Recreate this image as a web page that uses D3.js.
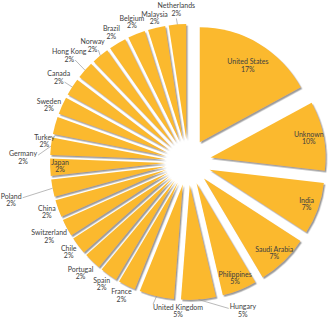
<!DOCTYPE html>
<html><head><meta charset="utf-8">
<script src="https://cdn.jsdelivr.net/npm/d3@7"></script>
<style>
html,body{margin:0;padding:0;background:#fff;}
svg{display:block;}
text{font-family:Lato,"Open Sans",sans-serif;font-size:7px;fill:#404040;}
</style></head>
<body>
<script>
// ---- data (clockwise from 12 o'clock) ----
const categories = ["United States","Unknown","India","Saudi Arabia","Philippines","Hungary","United Kingdom",
  "France","Spain","Portugal","Chile","Switzerland","China","Poland","Japan","Germany","Turkey","Sweden",
  "Canada","Hong Kong","Norway","Brazil","Belgium","Malaysia","Netherlands"];
const values = [7,4,3,3,2,2,2,1,1,1,1,1,1,1,1,1,1,1,1,1,1,1,1,1,1];
const insideLabels = ["United States","Unknown","India","Saudi Arabia","Philippines","Japan"];
const leaderLabels = {"Netherlands":"bottom","Norway":"right2","Hong Kong":"right2","Canada":"right2",
  "Germany":"right1","Poland":"right1","United Kingdom":"topleft","Hungary":"left1"};

// ---- layout ----
const W = 332, H = 322, cx = 188, cy = 162, R = 115, ex = 0.2 * R;
const color = "#FBB92E";
const labelAdjust = {
  "United States":{r:113,a:32},"Unknown":{r:123},"Saudi Arabia":{a:136.8},"Japan":{r:128},
  "Netherlands":{r:152},"Malaysia":{r:147},"Hong Kong":{r:159},"Canada":{r:154},"Sweden":{a:292},
  "Turkey":{a:278,r:145},"Germany":{a:271.4,r:165},"Poland":{a:257.7,r:181},"Switzerland":{r:158},
  "Portugal":{r:155},"United Kingdom":{a:183.8},"Hungary":{a:159.8,r:159}
};

const data = categories.map((c,i)=>({name:c, v:values[i]}));
const total = d3.sum(values);

const svg = d3.select("body").append("svg").attr("width",W).attr("height",H);
const defs = svg.append("defs");
defs.append("filter").attr("id","sh").attr("x","-30%").attr("y","-30%").attr("width","160%").attr("height","160%")
  .append("feDropShadow").attr("dx",1.4).attr("dy",1.6).attr("stdDeviation",0.6)
  .attr("flood-color","#8a8a8a").attr("flood-opacity",0.85);

const pie = d3.pie().sort(null).value(d=>d.v).startAngle(0).endAngle(2*Math.PI);
const arcs = pie(data);
const arc = d3.arc().innerRadius(0).outerRadius(R);
const mid = d => (d.startAngle + d.endAngle)/2;

const g = svg.append("g").attr("transform",`translate(${cx},${cy})`);
g.selectAll("path.slice").data(arcs).join("path").attr("class","slice")
  .attr("d",arc)
  .attr("fill",color)
  .attr("filter","url(#sh)")
  .attr("transform",d=>`translate(${Math.sin(mid(d))*ex},${-Math.cos(mid(d))*ex})`);

// labels
const lg = svg.append("g");
arcs.forEach(d=>{
  const name = d.data.name;
  const inside = insideLabels.includes(name);
  const adj = labelAdjust[name] || {};
  const a = adj.a !== undefined ? adj.a*Math.PI/180 : mid(d);
  const r = adj.r !== undefined ? adj.r : (inside ? 126 : 150);
  const x = cx + r*Math.sin(a), y = cy - r*Math.cos(a);
  const pct = Math.round(d.data.v/total*100) + "%";
  const t = lg.append("text").attr("text-anchor","middle");
  const t1 = t.append("tspan").attr("x",x).attr("y",y-3.8).attr("dominant-baseline","middle").text(name);
  const t2 = t.append("tspan").attr("x",x).attr("y",y+3.8).attr("dominant-baseline","middle").text(pct);
  const side = leaderLabels[name];
  if (side) {
    const m = mid(d);
    const px = cx + (R+ex)*Math.sin(m), py = cy - (R+ex)*Math.cos(m);
    const w1 = t1.node().getComputedTextLength(), w2 = t2.node().getComputedTextLength();
    let lx, ly;
    if (side==="bottom"){ lx = x; ly = y+8; }
    else if (side==="right2"){ lx = x+w2/2+1; ly = y+3.8; }
    else if (side==="right1"){ lx = x+w1/2+1; ly = y-3.8+1; }
    else if (side==="left1"){ lx = x-w1/2-1; ly = y-3.8+1; }
    else if (side==="topleft"){ lx = x-w1/2; ly = y-7.5; }
    lg.append("line").attr("x1",px).attr("y1",py).attr("x2",lx).attr("y2",ly)
      .attr("stroke","#8c8c8c").attr("stroke-width",0.6);
  }
});
</script>
</body></html>
